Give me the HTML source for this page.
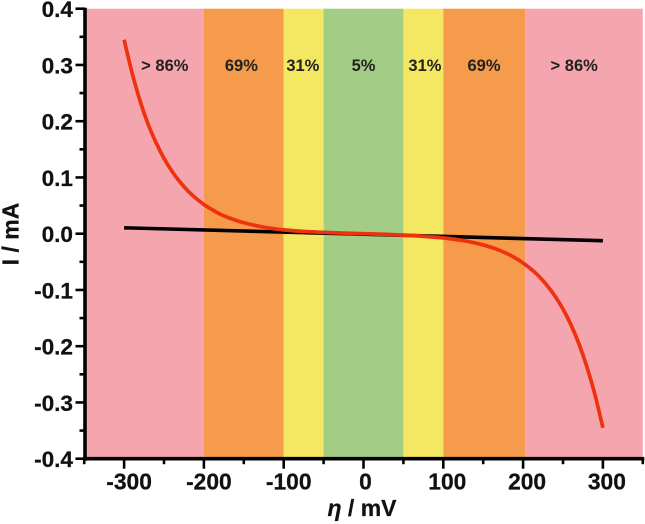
<!DOCTYPE html>
<html>
<head>
<meta charset="utf-8">
<style>
html,body{margin:0;padding:0;background:#fff;}
svg{display:block;font-family:"Liberation Sans","DejaVu Sans",sans-serif;font-weight:bold;}
</style>
</head>
<body>
<svg id="chart" width="645" height="524" viewBox="0 0 645 524" xmlns="http://www.w3.org/2000/svg"></svg>
<script>
const xTicks = [-300, -200, -100, 0, 100, 200, 300];
const xMinorTicks = [-350, -250, -150, -50, 50, 150, 250, 350];
const yTicks = [0.4, 0.3, 0.2, 0.1, 0.0, -0.1, -0.2, -0.3, -0.4];
const yMinorTicks = [0.35, 0.25, 0.15, 0.05, -0.05, -0.15, -0.25, -0.35];
const bandStarts = [-350, -200, -100, -50, 50, 100, 202.5];
const bandEnds = [-200, -100, -50, 50, 100, 202.5, 350];
const bandColors = ['#f4a5ae', '#f59b4b', '#f4e761', '#a3cd85', '#f4e761', '#f59b4b', '#f4a5ae'];
const bandLabels = ['> 86%', '69%', '31%', '5%', '31%', '69%', '> 86%'];
const bandLabelX = [-249, -153, -76, 0, 77, 151, 264];
const bandLabelI = [0.3, 0.3, 0.3, 0.3, 0.3, 0.3, 0.3];
const redEta = [-300, -290, -280, -270, -260, -250, -240, -230, -220, -210, -200, -190, -180, -170, -160, -150, -140, -130, -120, -110, -100, -75, -50, -25, 0, 25, 50, 75, 100, 110, 120, 130, 140, 150, 160, 170, 180, 190, 200, 210, 220, 230, 240, 250, 260, 270, 280, 290, 300];
const redI = [0.345, 0.286, 0.236, 0.195, 0.162, 0.134, 0.111, 0.092, 0.076, 0.063, 0.052, 0.043, 0.035, 0.029, 0.024, 0.0195, 0.016, 0.013, 0.0105, 0.0085, 0.0068, 0.004, 0.0025, 0.001, 0, -0.001, -0.0025, -0.0045, -0.0075, -0.0092, -0.0112, -0.0136, -0.0165, -0.02, -0.0242, -0.0293, -0.0355, -0.043, -0.052, -0.063, -0.076, -0.092, -0.111, -0.134, -0.162, -0.196, -0.237, -0.286, -0.345];
const blackEta = [-300, 300];
const blackI = [0.0105, -0.0125];

const NS = 'http://www.w3.org/2000/svg';
const svg = document.getElementById('chart');
const xScale = v => 363.5 + v * 0.798;
const yScale = v => 233.7 - v * 562.5;

function make(tag, attrs, parent) {
  const el = document.createElementNS(NS, tag);
  for (const k in attrs) el.setAttribute(k, attrs[k]);
  (parent || svg).appendChild(el);
  return el;
}

bandStarts.forEach((s, i) => {
  const r = make('rect', {x: xScale(s), y: yScale(0.4), width: xScale(bandEnds[i]) - xScale(s), height: yScale(-0.4) - yScale(0.4), fill: bandColors[i]});
  
  
});

bandLabels.forEach((t, i) => {
  const el = make('text', {x: xScale(bandLabelX[i]), y: yScale(bandLabelI[i]) + 6, 'text-anchor': 'middle', 'font-size': 16.5, fill: '#222'});
  el.textContent = t;
  
  
});

function smoothPath(xs, ys) {
  const p = xs.map((x, i) => [xScale(x), yScale(ys[i])]);
  let d = 'M' + p[0][0].toFixed(2) + ' ' + p[0][1].toFixed(2);
  for (let i = 0; i < p.length - 1; i++) {
    const a = p[Math.max(i - 1, 0)], b = p[i], c = p[i + 1], e = p[Math.min(i + 2, p.length - 1)];
    const c1x = b[0] + (c[0] - a[0]) / 6, c1y = b[1] + (c[1] - a[1]) / 6;
    const c2x = c[0] - (e[0] - b[0]) / 6, c2y = c[1] - (e[1] - b[1]) / 6;
    d += 'C' + c1x.toFixed(2) + ' ' + c1y.toFixed(2) + ' ' + c2x.toFixed(2) + ' ' + c2y.toFixed(2) + ' ' + c[0].toFixed(2) + ' ' + c[1].toFixed(2);
  }
  return d;
}

const blackLine = make('path', {d: smoothPath(blackEta, blackI), fill: 'none', stroke: '#000', 'stroke-width': 3.6});



const redLine = make('path', {d: smoothPath(redEta, redI), fill: 'none', stroke: '#ee3210', 'stroke-width': 3.7});



const yAxis = make('line', {x1: 85, x2: 85, y1: yScale(0.4) - 1, y2: yScale(-0.4) + 2, stroke: '#000', 'stroke-width': 3.6});



const xAxis = make('line', {x1: 83.2, x2: xScale(350) + 1.5, y1: yScale(-0.4), y2: yScale(-0.4), stroke: '#000', 'stroke-width': 3.6});



const axisX = 85, axisY = yScale(-0.4);

yTicks.forEach(v => {
  const y = yScale(v);
  const t = make('line', {x1: axisX - 9.5, x2: axisX, y1: y, y2: y, stroke: '#000', 'stroke-width': 2.6});
  
  
  const l = make('text', {x: axisX - 12, y: y + 8.5, 'text-anchor': 'end', 'font-size': 22.6, fill: '#111', stroke: '#111', 'stroke-width': 0.25});
  l.textContent = v.toFixed(1);
  
  
});

yMinorTicks.forEach(v => {
  const t = make('line', {x1: axisX - 5.5, x2: axisX, y1: yScale(v), y2: yScale(v), stroke: '#000', 'stroke-width': 2.6});
  
  
});

xTicks.forEach(v => {
  const x = xScale(v);
  const t = make('line', {x1: x, x2: x, y1: axisY, y2: axisY + 10, stroke: '#000', 'stroke-width': 2.6});
  
  
  const l = make('text', {x: x + (v < 0 ? 5 : v > 0 ? 4 : 2), y: axisY + 31, 'text-anchor': 'middle', 'font-size': 22.8, fill: '#111', stroke: '#111', 'stroke-width': 0.25});
  l.textContent = String(v);
  
  
});

xMinorTicks.forEach(v => {
  const t = make('line', {x1: xScale(v), x2: xScale(v), y1: axisY, y2: axisY + 5.5, stroke: '#000', 'stroke-width': 2.6});
  
  
});

const yTitle = make('text', {transform: 'translate(18.5 234) rotate(-90)', 'text-anchor': 'middle', 'font-size': 23, fill: '#111', stroke: '#111', 'stroke-width': 0.25});
yTitle.textContent = 'I / mA';



const xTitle = make('text', {x: 362, y: 516, 'text-anchor': 'middle', 'font-size': 23, fill: '#111', stroke: '#111', 'stroke-width': 0.25});


const eta = make('tspan', {'font-style': 'italic'}, xTitle);
eta.textContent = 'η';
const rest = make('tspan', {}, xTitle);
rest.textContent = ' / mV';
</script>
</body>
</html>
